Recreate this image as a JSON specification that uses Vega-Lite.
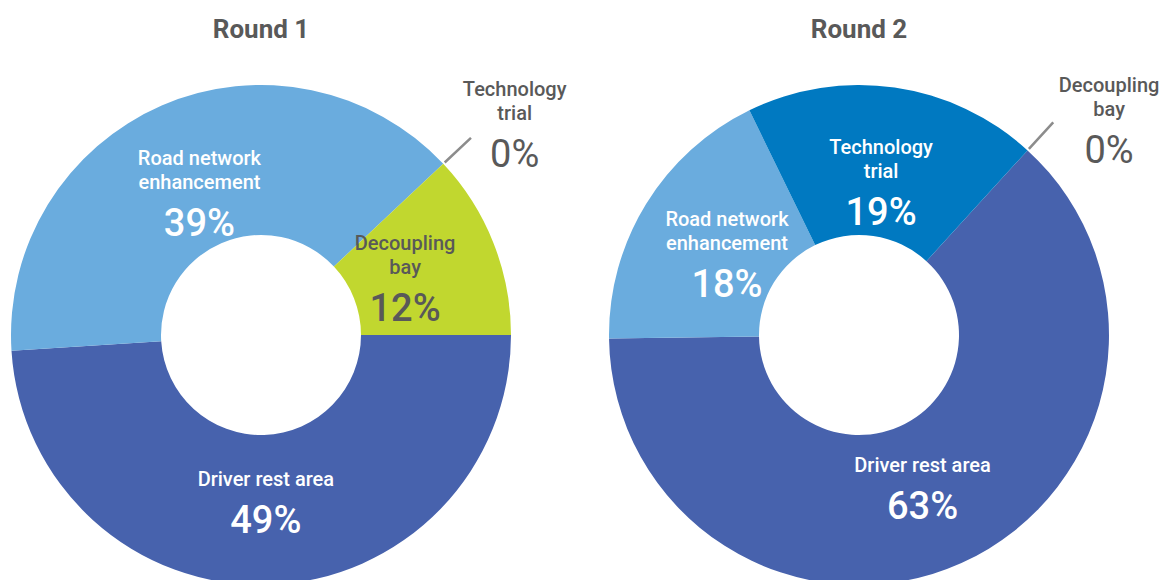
{
  "$schema": "https://vega.github.io/schema/vega-lite/v6.json",
  "background": "white",
  "padding": {"left": 0, "top": 16, "right": 0, "bottom": 0},
  "bounds": "flush",
  "spacing": 76,
  "config": {
    "view": {"stroke": null},
    "font": "Roboto",
    "title": {"fontSize": 26, "fontWeight": "bold", "color": "#595959", "font": "Roboto", "anchor": "middle", "baseline": "alphabetic", "frame": "group"}
  },
  "datasets": {
    "r1": [
      {"category": "Driver rest area", "label": "\nDriver rest area", "value": 0.49},
      {"category": "Road network enhancement", "label": "Road network\nenhancement", "value": 0.39},
      {"category": "Technology trial", "label": "Technology\ntrial", "value": 0.0},
      {"category": "Decoupling bay", "label": "Decoupling\nbay", "value": 0.12}
    ],
    "r2": [
      {"category": "Driver rest area", "label": "\nDriver rest area", "value": 0.63},
      {"category": "Road network enhancement", "label": "Road network\nenhancement", "value": 0.18},
      {"category": "Technology trial", "label": "Technology\ntrial", "value": 0.19},
      {"category": "Decoupling bay", "label": "Decoupling\nbay", "value": 0.0}
    ]
  },
  "hconcat": [
    {
      "title": {"text": "Round 1", "offset": 37},
      "width": 522,
      "height": 500,
      "data": {"name": "r1"},
      "encoding": {
        "theta": {"field": "value", "type": "quantitative", "stack": true, "scale": {"domain": [0, 1], "range": [0.8168, 7.1000]}},
        "order": {"field": "category", "type": "ordinal", "sort": "ascending"}
      },
      "layer": [
        {
          "mark": {"type": "arc", "innerRadius": 100, "outerRadius": 250},
          "encoding": {
            "color": {"field": "category", "type": "nominal", "legend": null,
              "scale": {"domain": ["Driver rest area", "Road network enhancement", "Technology trial", "Decoupling bay"], "range": ["#4762AD", "#6AACDE", "#0079C1", "#C1D72F"]}}
          }
        },
        {
          "transform": [{"filter": "datum.value == 0"}],
          "mark": {"type": "arc", "innerRadius": 252, "outerRadius": 288, "fillOpacity": 0, "stroke": "#8c8c8c", "strokeWidth": 2.5},
          "encoding": {}
        },
        {
          "transform": [{"filter": "datum.value > 0"}],
          "mark": {"type": "text", "radius": 155, "baseline": "alphabetic", "dy": -28, "lineBreak": "\n", "lineHeight": 24, "fontSize": 20, "fontWeight": 500, "align": "center"},
          "encoding": {
            "text": {"field": "label", "type": "nominal"},
            "color": {"condition": {"test": "datum.category === 'Decoupling bay'", "value": "#595959"}, "value": "#ffffff"}
          }
        },
        {
          "transform": [{"filter": "datum.value > 0"}],
          "mark": {"type": "text", "radius": 155, "baseline": "top", "dy": 13, "fontSize": 38, "fontWeight": 500, "align": "center"},
          "encoding": {
            "text": {"field": "value", "type": "quantitative", "format": ".0%"},
            "color": {"condition": {"test": "datum.category === 'Decoupling bay'", "value": "#595959"}, "value": "#ffffff"}
          }
        },
        {
          "transform": [{"filter": "datum.value == 0"}],
          "mark": {"type": "text", "radius": 330, "thetaOffset": 0.06, "baseline": "alphabetic", "dy": -28, "lineBreak": "\n", "lineHeight": 24, "fontSize": 20, "fontWeight": 500, "align": "center", "color": "#595959"},
          "encoding": {"text": {"field": "label", "type": "nominal"}}
        },
        {
          "transform": [{"filter": "datum.value == 0"}],
          "mark": {"type": "text", "radius": 330, "thetaOffset": 0.06, "baseline": "top", "dy": 13, "fontSize": 38, "fontWeight": 400, "align": "center", "color": "#595959"},
          "encoding": {"text": {"field": "value", "type": "quantitative", "format": ".0%"}}
        }
      ]
    },
    {
      "title": {"text": "Round 2", "offset": 33},
      "width": 522,
      "height": 500,
      "data": {"name": "r2"},
      "encoding": {
        "theta": {"field": "value", "type": "quantitative", "stack": true, "scale": {"domain": [0, 1], "range": [0.7400, 7.0232]}},
        "order": {"field": "category", "type": "ordinal", "sort": "ascending"}
      },
      "layer": [
        {
          "mark": {"type": "arc", "innerRadius": 100, "outerRadius": 250},
          "encoding": {
            "color": {"field": "category", "type": "nominal", "legend": null,
              "scale": {"domain": ["Driver rest area", "Road network enhancement", "Technology trial", "Decoupling bay"], "range": ["#4762AD", "#6AACDE", "#0079C1", "#C1D72F"]}}
          }
        },
        {
          "transform": [{"filter": "datum.value == 0"}],
          "mark": {"type": "arc", "innerRadius": 252, "outerRadius": 288, "fillOpacity": 0, "stroke": "#8c8c8c", "strokeWidth": 2.5},
          "encoding": {}
        },
        {
          "transform": [{"filter": "datum.value > 0"}],
          "mark": {"type": "text", "radius": 155, "baseline": "alphabetic", "dy": -28, "lineBreak": "\n", "lineHeight": 24, "fontSize": 20, "fontWeight": 500, "align": "center"},
          "encoding": {
            "text": {"field": "label", "type": "nominal"},
            "color": {"condition": {"test": "datum.category === 'Decoupling bay'", "value": "#595959"}, "value": "#ffffff"}
          }
        },
        {
          "transform": [{"filter": "datum.value > 0"}],
          "mark": {"type": "text", "radius": 155, "baseline": "top", "dy": 13, "fontSize": 38, "fontWeight": 500, "align": "center"},
          "encoding": {
            "text": {"field": "value", "type": "quantitative", "format": ".0%"},
            "color": {"condition": {"test": "datum.category === 'Decoupling bay'", "value": "#595959"}, "value": "#ffffff"}
          }
        },
        {
          "transform": [{"filter": "datum.value == 0"}],
          "mark": {"type": "text", "radius": 330, "thetaOffset": 0.12, "baseline": "alphabetic", "dy": -28, "lineBreak": "\n", "lineHeight": 24, "fontSize": 20, "fontWeight": 500, "align": "center", "color": "#595959"},
          "encoding": {"text": {"field": "label", "type": "nominal"}}
        },
        {
          "transform": [{"filter": "datum.value == 0"}],
          "mark": {"type": "text", "radius": 330, "thetaOffset": 0.12, "baseline": "top", "dy": 13, "fontSize": 38, "fontWeight": 400, "align": "center", "color": "#595959"},
          "encoding": {"text": {"field": "value", "type": "quantitative", "format": ".0%"}}
        }
      ]
    }
  ]
}
